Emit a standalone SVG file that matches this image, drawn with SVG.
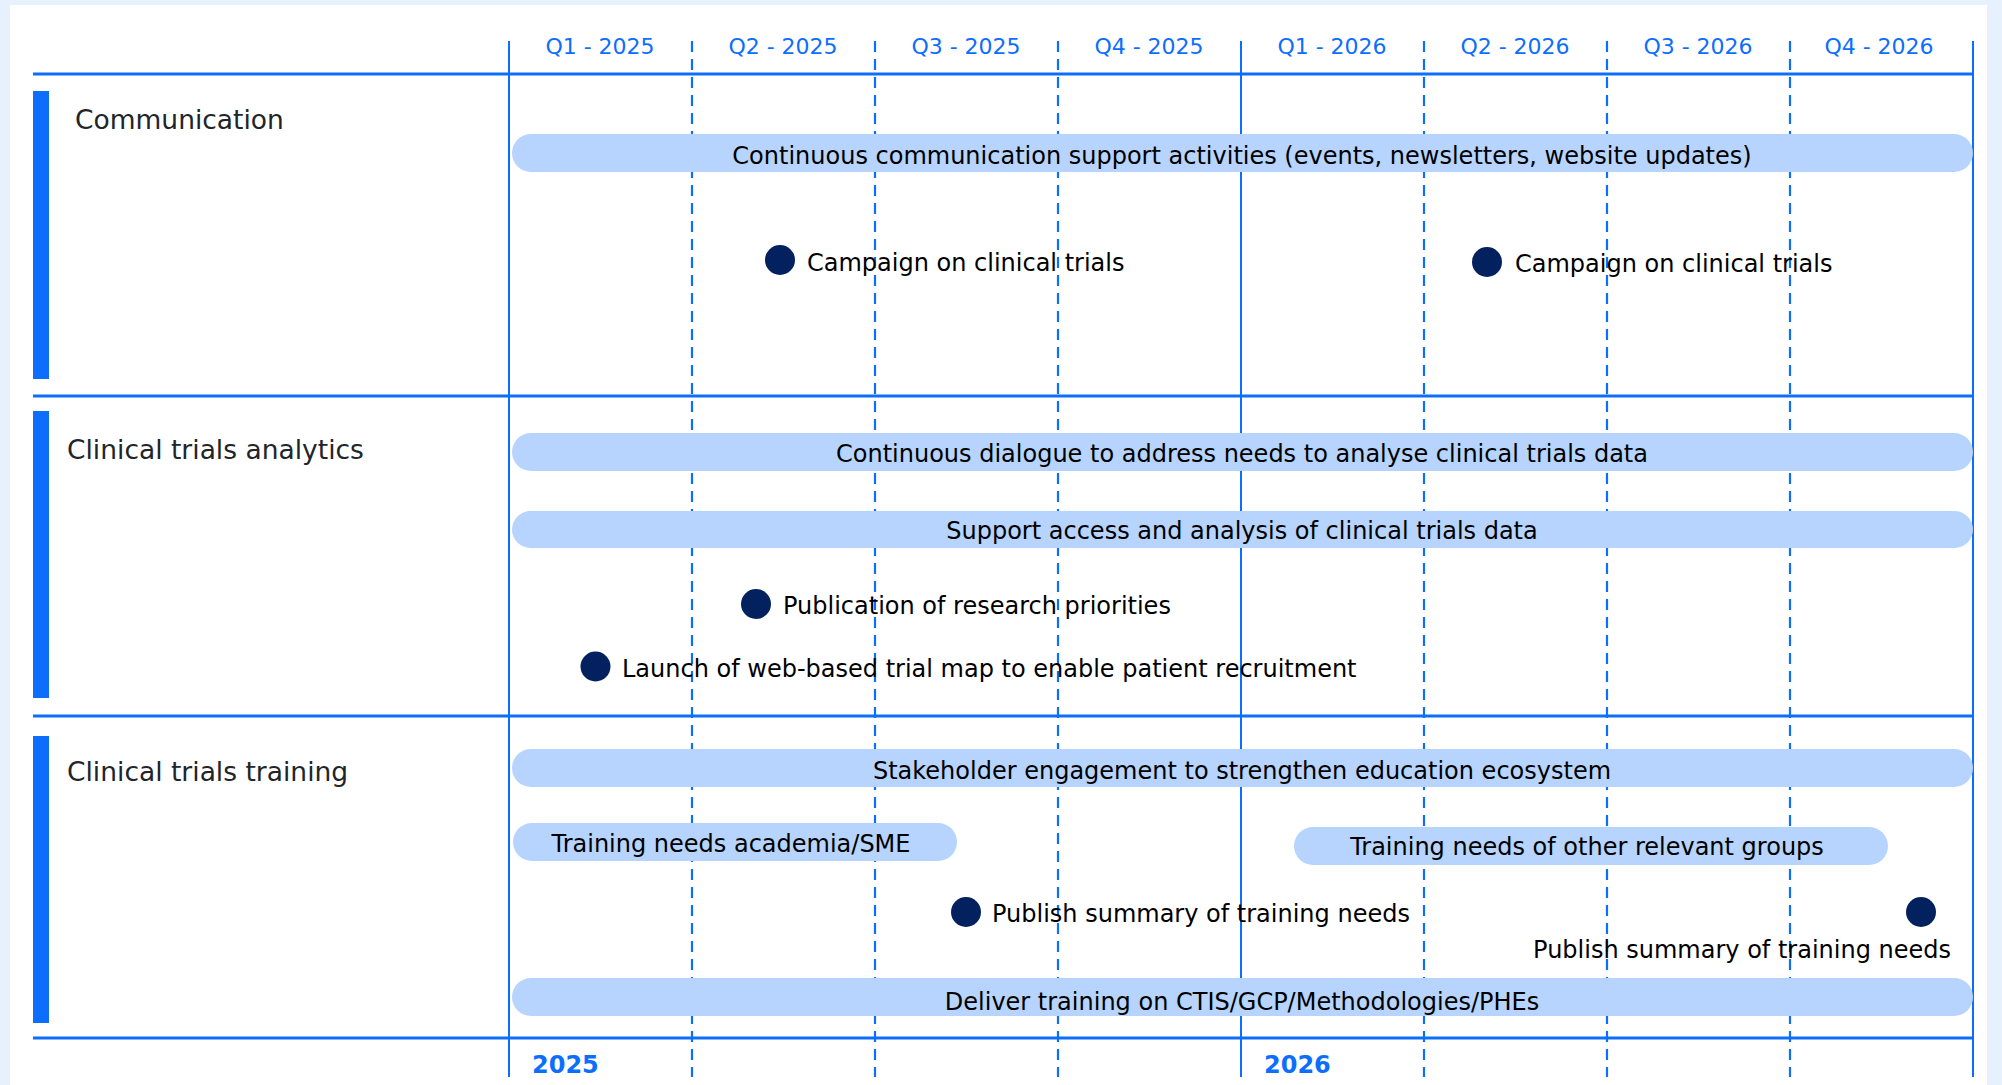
<svg xmlns="http://www.w3.org/2000/svg" width="2002" height="1085" viewBox="0 0 2002 1085">
<style>
text{font-family:"DejaVu Sans",Verdana,sans-serif}
.q{font-size:22px;fill:#0D6EFD;text-anchor:middle}
.yr{font-size:24px;font-weight:bold;fill:#0D6EFD}
.cat{font-size:26.5px;fill:#212529}
.bt{font-size:24px;fill:#000;text-anchor:middle}
.mt{font-size:24px;fill:#000}
.bar{fill:#B6D4FE}
.dot{fill:#03215F}
.side{fill:#0D6EFD}
.hl{stroke:#0D6EFD;stroke-width:3;fill:none}
.vs{stroke:#0D6EFD;stroke-width:2;fill:none}
.vd{stroke:#0D6EFD;stroke-width:2.2;fill:none;stroke-dasharray:11 7}
</style>
<rect x="0" y="0" width="2002" height="1085" fill="#E7F0FD"/>
<rect x="10" y="5" width="1977" height="1080" fill="#FFFFFF"/>

<g id="grid">
<line class="vs" x1="509" y1="41" x2="509" y2="1077"/>
<line class="vd" x1="692" y1="41" x2="692" y2="1077"/>
<line class="vd" x1="875" y1="41" x2="875" y2="1077"/>
<line class="vd" x1="1058" y1="41" x2="1058" y2="1077"/>
<line class="vs" x1="1241" y1="41" x2="1241" y2="1077"/>
<line class="vd" x1="1424" y1="41" x2="1424" y2="1077"/>
<line class="vd" x1="1607" y1="41" x2="1607" y2="1077"/>
<line class="vd" x1="1790" y1="41" x2="1790" y2="1077"/>
<line class="vs" x1="1973" y1="41" x2="1973" y2="1077"/>
<line class="hl" x1="33" y1="74" x2="1974" y2="74"/>
<line class="hl" x1="33" y1="396" x2="1974" y2="396"/>
<line class="hl" x1="33" y1="716" x2="1974" y2="716"/>
<line class="hl" x1="33" y1="1038" x2="1974" y2="1038"/>
</g>

<g id="header">
<text class="q" x="600" y="54">Q1 - 2025</text>
<text class="q" x="783" y="54">Q2 - 2025</text>
<text class="q" x="966" y="54">Q3 - 2025</text>
<text class="q" x="1149" y="54">Q4 - 2025</text>
<text class="q" x="1332" y="54">Q1 - 2026</text>
<text class="q" x="1515" y="54">Q2 - 2026</text>
<text class="q" x="1698" y="54">Q3 - 2026</text>
<text class="q" x="1879" y="54">Q4 - 2026</text>
<text class="yr" x="532" y="1073">2025</text>
<text class="yr" x="1264" y="1073">2026</text>
</g>

<g id="lane-communication">
<rect class="side" x="33" y="91" width="16" height="288"/>
<text class="cat" x="75" y="129">Communication</text>
</g>
<g id="lane-analytics">
<rect class="side" x="33" y="411" width="16" height="287"/>
<text class="cat" x="67" y="459">Clinical trials analytics</text>
</g>
<g id="lane-training">
<rect class="side" x="33" y="736" width="16" height="287"/>
<text class="cat" x="67" y="781">Clinical trials training</text>
</g>

<g id="bar-comm-support">
<rect class="bar" x="512" y="134" width="1461" height="38" rx="19"/>
<text class="bt" x="1242" y="164">Continuous communication support activities (events, newsletters, website updates)</text>
</g>
<g id="ms-campaign-1">
<circle class="dot" cx="780" cy="260" r="15"/>
<text class="mt" x="807" y="271">Campaign on clinical trials</text>
</g>
<g id="ms-campaign-2">
<circle class="dot" cx="1487" cy="262" r="15"/>
<text class="mt" x="1515" y="272">Campaign on clinical trials</text>
</g>

<g id="bar-dialogue">
<rect class="bar" x="512" y="433" width="1461" height="38" rx="19"/>
<text class="bt" x="1242" y="462">Continuous dialogue to address needs to analyse clinical trials data</text>
</g>
<g id="bar-support-access">
<rect class="bar" x="512" y="511" width="1461" height="37" rx="18.5"/>
<text class="bt" x="1242" y="539">Support access and analysis of clinical trials data</text>
</g>
<g id="ms-publication">
<circle class="dot" cx="756" cy="604" r="15"/>
<text class="mt" x="783" y="614">Publication of research priorities</text>
</g>
<g id="ms-launch">
<circle class="dot" cx="595.5" cy="666.5" r="15"/>
<text class="mt" x="622" y="677">Launch of web-based trial map to enable patient recruitment</text>
</g>

<g id="bar-stakeholder">
<rect class="bar" x="512" y="749" width="1461" height="38" rx="19"/>
<text class="bt" x="1242" y="779">Stakeholder engagement to strengthen education ecosystem</text>
</g>
<g id="bar-academia">
<rect class="bar" x="513" y="823" width="444" height="38" rx="19"/>
<text class="bt" x="731" y="852">Training needs academia/SME</text>
</g>
<g id="bar-other-groups">
<rect class="bar" x="1294" y="827" width="594" height="38" rx="19"/>
<text class="bt" x="1587" y="855">Training needs of other relevant groups</text>
</g>
<g id="ms-publish-1">
<circle class="dot" cx="966" cy="912" r="15"/>
<text class="mt" x="992" y="922">Publish summary of training needs</text>
</g>
<g id="ms-publish-2">
<circle class="dot" cx="1921" cy="912" r="15"/>
<text class="mt" x="1951" y="958" text-anchor="end">Publish summary of training needs</text>
</g>
<g id="bar-deliver">
<rect class="bar" x="512" y="978" width="1461" height="38" rx="19"/>
<text class="bt" x="1242" y="1010">Deliver training on CTIS/GCP/Methodologies/PHEs</text>
</g>

<g id="connectors"></g>
</svg>
